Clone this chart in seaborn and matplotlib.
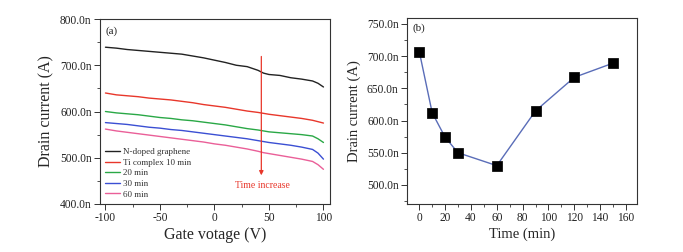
import numpy as np
import pandas as pd
import seaborn as sns
import matplotlib
matplotlib.use("Agg")
import matplotlib.pyplot as plt
from matplotlib.ticker import MultipleLocator, FuncFormatter

# ---------------- data ----------------
gate_v = [-100, -90, -80, -70, -60, -50, -40, -30, -20, -10, 0, 10, 20, 30, 40, 45, 50, 60, 70, 80, 90, 95, 100]
i_ndoped = [739, 737, 734, 732, 730, 728, 726, 724, 720, 716, 711, 706, 700, 697, 689, 683, 680, 678, 673, 670, 666, 661, 653]
i_ti10 = [640, 636, 634, 632, 629, 627, 625, 622, 619, 615, 612, 609, 605, 601, 598, 596, 594, 591, 588, 585, 581, 578, 575]
i_20 = [600, 597, 595, 593, 590, 587, 585, 582, 580, 577, 574, 571, 567, 563, 560, 558, 556, 554, 552, 550, 547, 541, 533]
i_30 = [576, 574, 572, 569, 566, 564, 561, 559, 556, 553, 550, 547, 544, 541, 537, 535, 533, 530, 527, 523, 518, 510, 497]
i_60 = [562, 558, 555, 552, 549, 546, 543, 540, 537, 534, 530, 527, 523, 519, 514, 511, 509, 505, 501, 497, 492, 485, 475]
series_names = ["N-doped graphene", "Ti complex 10 min", "20 min", "30 min", "60 min"]
series_colors = ["#222222", "#e8372b", "#2aa846", "#3b4fd3", "#ea5f98"]

time_min = [0, 10, 20, 30, 60, 90, 120, 150]
i_time = [707, 612, 574, 550, 530, 615, 667, 689]

# ---------------- style ----------------
sns.set_style("ticks")
plt.rcParams["font.family"] = ["Liberation Serif", "DejaVu Serif"]
plt.rcParams["axes.unicode_minus"] = False

fig = plt.figure(figsize=(6.83, 2.52), dpi=100)
W, H = 683, 252
ax1 = fig.add_axes([100 / W, 48 / H, 230 / W, 185 / H])
ax2 = fig.add_axes([407 / W, 48 / H, 230 / W, 186 / H])

nfmt = FuncFormatter(lambda v, p: f"{v:.1f}n")

def style_axes(ax):
    for s in ax.spines.values():
        s.set_visible(True)
        s.set_linewidth(0.8)
        s.set_color("#333333")
    ax.tick_params(which="major", direction="out", length=4, width=0.7,
                   labelsize=8.3, colors="#333333", pad=2)
    ax.tick_params(which="minor", direction="out", length=2.2, width=0.6, colors="#333333")
    ax.tick_params(top=False, right=False)
    for lab in ax.get_xticklabels() + ax.get_yticklabels():
        lab.set_color("#222222")

# ---------------- panel (a) ----------------
series = [i_ndoped, i_ti10, i_20, i_30, i_60]
rows = []
for name, vals in zip(series_names, series):
    for v, c in zip(gate_v, vals):
        rows.append({"V": v, "I": c, "series": name})
dfa = pd.DataFrame(rows)
sns.lineplot(data=dfa, x="V", y="I", hue="series", hue_order=series_names,
             palette=series_colors, linewidth=1.0, ax=ax1, legend=True)
ax1.set_xlim(-105, 106)
ax1.set_ylim(400, 800)
ax1.xaxis.set_major_locator(MultipleLocator(50))
ax1.xaxis.set_minor_locator(MultipleLocator(25))
ax1.yaxis.set_major_locator(MultipleLocator(100))
ax1.yaxis.set_minor_locator(MultipleLocator(50))
ax1.yaxis.set_major_formatter(nfmt)
ax1.set_xlabel("Gate votage (V)", fontsize=11.5, labelpad=2)
ax1.set_ylabel("Drain current (A)", fontsize=11.5, labelpad=4)
style_axes(ax1)
leg = ax1.legend(loc="lower left", frameon=False, fontsize=6.5, handlelength=1.6,
                 handletextpad=0.3, labelspacing=0.25, borderaxespad=0.2,
                 bbox_to_anchor=(0.0, 0.0))
for t in leg.get_texts():
    t.set_color("#333333")
ax1.annotate("", xy=(43, 462), xytext=(43, 719),
             arrowprops=dict(arrowstyle="-|>", color="#e8372b", lw=0.9,
                             mutation_scale=6, shrinkA=0, shrinkB=0))
ax1.text(44, 441, "Time increase", color="#e8372b", fontsize=7,
         ha="center", va="center")
ax1.text(0.025, 0.96, "(a)", transform=ax1.transAxes, fontsize=8,
         ha="left", va="top", color="#222222")

# ---------------- panel (b) ----------------
dfb = pd.DataFrame({"t": time_min, "I": i_time})
sns.lineplot(data=dfb, x="t", y="I", color="#5a6db8", linewidth=1.0, ax=ax2)
sns.scatterplot(data=dfb, x="t", y="I", marker="s", s=42, color="black",
                edgecolor="black", ax=ax2, zorder=3)
ax2.set_xlim(-9.5, 168.5)
ax2.set_ylim(470.5, 759)
ax2.xaxis.set_major_locator(MultipleLocator(20))
ax2.xaxis.set_minor_locator(MultipleLocator(10))
ax2.yaxis.set_major_locator(MultipleLocator(50))
ax2.yaxis.set_minor_locator(MultipleLocator(25))
ax2.yaxis.set_major_formatter(nfmt)
ax2.set_xlabel("Time (min)", fontsize=10.5, labelpad=2)
ax2.set_ylabel("Drain current (A)", fontsize=10.5, labelpad=4)
style_axes(ax2)
ax2.text(0.025, 0.97, "(b)", transform=ax2.transAxes, fontsize=8,
         ha="left", va="top", color="#222222")

fig.savefig("out.png", dpi=100)
